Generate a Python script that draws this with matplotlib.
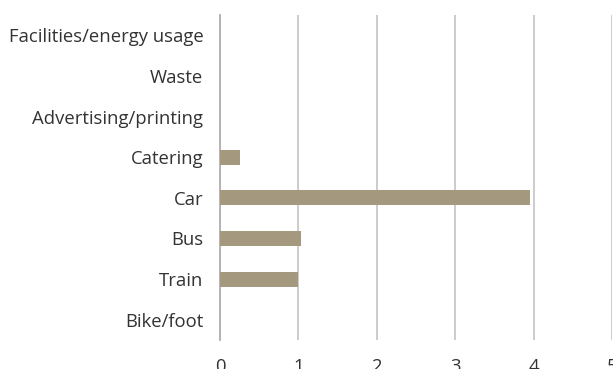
import matplotlib
matplotlib.use("Agg")
import matplotlib.pyplot as plt

categories = ["Facilities/energy usage", "Waste", "Advertising/printing", "Catering",
              "Car", "Bus", "Train", "Bike/foot"]
values = [0, 0, 0, 0.25, 3.96, 1.03, 1.0, 0]
xticks = [0, 1, 2, 3, 4, 5]

plt.rcParams["font.family"] = ["Open Sans", "DejaVu Sans"]

fig = plt.figure(figsize=(6.13, 3.69), dpi=100)
ax = fig.add_axes([220 / 613, 29 / 369, 392 / 613, 325 / 369])

ypos = list(range(len(categories)))
ax.barh(ypos, values, height=0.37, color="#a4987e", zorder=3)
ax.set_ylim(len(categories) - 0.5, -0.5)
ax.set_xlim(0, 5)
ax.set_yticks(ypos)
ax.set_yticklabels(categories, fontsize=13.3, color="#333333", fontweight="medium")
ax.set_xticks(xticks)
ax.set_xticklabels([str(t) for t in xticks], fontsize=13.3, color="#333333", fontweight="medium")
ax.tick_params(axis="y", length=0, pad=12)
ax.tick_params(axis="x", length=0, pad=13)
ax.xaxis.grid(True, color="#c8c8c8", linewidth=1.3, zorder=0)
for s in ["top", "right", "bottom"]:
    ax.spines[s].set_visible(False)
ax.spines["left"].set_color("#b0b0b0")
ax.spines["left"].set_linewidth(1.3)

fig.savefig("out.png", dpi=100)
